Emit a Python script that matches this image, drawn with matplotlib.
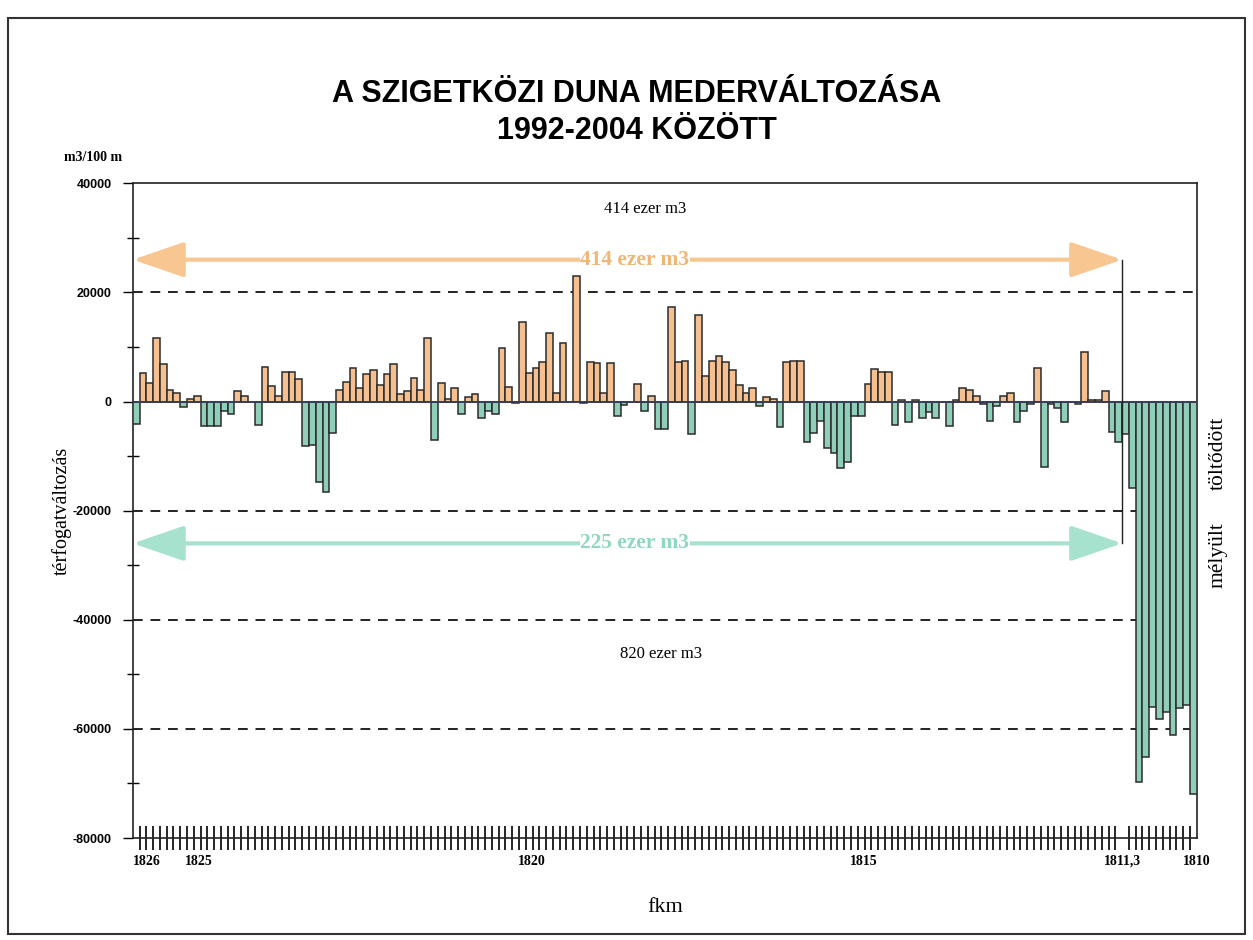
import numpy as np
import matplotlib.pyplot as plt
from matplotlib.patches import Rectangle, FancyArrowPatch
from matplotlib.ticker import MultipleLocator

# volume change per 100 m section, read from fkm 1826 downstream to 1810
volume_change = [
    -4200, 5300, 3450, 11600, 6850, 2100, 1500, -1000, 500, 1000,
    -4500, -4500, -4500, -1800, -2200, 1850, 1000, 0, -4250, 6400,
    2850, 1000, 5500, 5500, 4100, -8200, -7900, -14700, -16500, -5700,
    2100, 3650, 6200, 2400, 5050, 5700, 3000, 5050, 6900, 1350,
    1850, 4250, 2150, 11700, -7100, 3350, 400, 2450, -2350, 750,
    1350, -3100, -1700, -2300, 9850, 2750, -300, 14600, 5150, 6150,
    7200, 12500, 1550, 10750, 0, 22950, -300, 7250, 7000, 1650,
    7000, -2600, -600, 0, 3200, -1800, 1000, -5000, -5000, 17300,
    7200, 7400, -6000, 15900, 4750, 7400, 8300, 7200, 5700, 3100,
    1650, 2400, -900, 750, 500, -4750, 7250, 7500, 7500, -7400,
    -5700, -3500, -8500, -9450, -12100, -11000, -2650, -2650, 3200, 6000,
    5400, 5400, -4300, 300, -3700, 300, -3000, -1900, -3000, 0,
    -4500, 300, 2400, 2100, 1050, -500, -3600, -800, 1000, 1500,
    -3700, -1700, -500, 6200, -12000, -400, -1100, -3700, 0, -500,
    9000, 300, 300, 1900, -5500, -7500, -5900, -15800, -69700, -65200,
    -56000, -58200, -56900, -61200, -56100, -55600, -71900,
]

km_start = 1826
km_end = 1810
xtick_km = [1826, 1825, 1820, 1815, 1810]
xtick_labels = ['1826', '1825', '1820', '1815', '1810']
split_index = 146          # section boundary at fkm 1811,3
split_label = '1811,3'
yticks = [40000, 20000, 0, -20000, -40000, -60000, -80000]
grid_levels = [20000, -20000, -40000, -60000]
arrow_level = 26000
filled_text = '414 ezer m3'
deepened_text = '225 ezer m3'
upper_note = '414 ezer m3'
lower_note = '820 ezer m3'

orange = '#F5BF90'
teal = '#8FCFB9'
orange_arrow = '#F8C690'
teal_arrow = '#A6E2CE'

serif = 'Liberation Serif'
sans = 'Liberation Sans'

fig = plt.figure(figsize=(12.53, 9.4), dpi=100)
ax = fig.add_axes([0.106, 0.1085, 0.849, 0.6965])

n = len(volume_change)
w = (km_start - km_end) / n
centers = km_start - (np.arange(n) + 0.5) * w
colors = [orange if v >= 0 else teal for v in volume_change]
ax.bar(centers, volume_change, width=w, color=colors, edgecolor='#2b2b2b',
       linewidth=1.1, zorder=3)

ax.set_xlim(km_start, km_end)
ax.set_ylim(-80000, 40000)

for lvl in grid_levels:
    ax.axhline(lvl, color='#222222', lw=1.4, ls=(0, (5, 4)), zorder=1)
ax.axhline(0, color='#3a3a5a', lw=1.2, zorder=4)

split_km = km_start - split_index * w
ax.plot([split_km, split_km], [arrow_level, -arrow_level], color='#222222', lw=1, zorder=4)

for y, col, txt, tcol in [(arrow_level, orange_arrow, filled_text, '#F0B676'),
                          (-arrow_level, teal_arrow, deepened_text, '#8FD8C0')]:
    arr = FancyArrowPatch((km_start, y), (split_km, y),
                          arrowstyle='<|-|>,head_length=3.2,head_width=1.1',
                          mutation_scale=10, color=col, lw=3, zorder=5,
                          shrinkA=0, shrinkB=0)
    ax.add_patch(arr)
    ax.text(1818.45, y, txt, ha='center', va='center', color=tcol, fontsize=15.5,
            family=serif, weight='bold', zorder=6,
            bbox=dict(fc='white', ec='none', pad=0.5))

ax.text(1818.3, 35200, upper_note, ha='center', va='center', fontsize=12, family=serif)
ax.text(1818.05, -46300, lower_note, ha='center', va='center', fontsize=12, family=serif)

# y axis
ax.set_yticks(yticks)
ax.set_yticklabels([str(v) for v in yticks], family=sans, weight='bold', fontsize=9)
ax.yaxis.set_minor_locator(MultipleLocator(10000))
ax.tick_params(axis='y', which='major', direction='out', length=7, width=1, pad=8)
ax.tick_params(axis='y', which='minor', direction='inout', length=8, width=1)

# x axis
ax.set_xticks(xtick_km + [split_km])
ax.set_xticklabels(xtick_labels + [split_label], family=serif, weight='bold', fontsize=10)
ax.get_xticklabels()[0].set_ha('left')
ax.set_xticks(km_start - np.arange(n + 1) * w, minor=True)
ax.tick_params(axis='x', which='major', length=0, pad=12)
ax.tick_params(axis='x', which='minor', direction='inout', length=17, width=1.2)

for side in ['left', 'bottom', 'top', 'right']:
    ax.spines[side].set_linewidth(1.2)
    ax.spines[side].set_color('#222222')

ax.set_ylabel('térfogatváltozás', family=serif, fontsize=14.5, labelpad=1)
ax.set_xlabel('fkm', family=serif, fontsize=16, labelpad=22)
ax.text(-0.065, 1.04, 'm3/100 m', transform=ax.transAxes, family=serif,
        weight='bold', fontsize=10, ha='left', va='center')
ax.text(1.02, 0.588, 'töltődött', transform=ax.transAxes, family=serif,
        fontsize=15.5, rotation=90, ha='center', va='center')
ax.text(1.02, 0.432, 'mélyült', transform=ax.transAxes, family=serif,
        fontsize=15.5, rotation=90, ha='center', va='center')

fig.text(0.508, 0.900, 'A SZIGETKÖZI DUNA MEDERVÁLTOZÁSA', family=sans,
         weight='bold', fontsize=22, ha='center', va='center')
fig.text(0.508, 0.861, '1992-2004 KÖZÖTT', family=sans,
         weight='bold', fontsize=22, ha='center', va='center')

fig.patches.append(Rectangle((0.006, 0.006), 0.988, 0.975, transform=fig.transFigure,
                             fill=False, lw=1.5, ec='#333333'))

fig.savefig('out.png', dpi=100)
